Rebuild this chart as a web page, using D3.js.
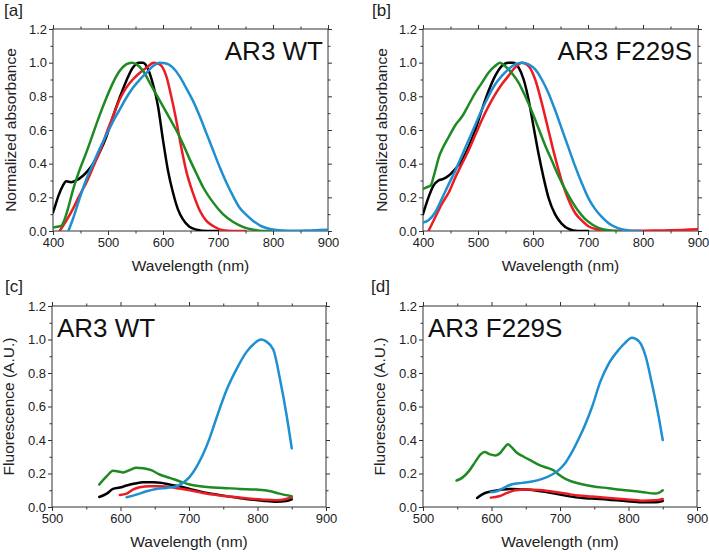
<!DOCTYPE html>
<html>
<head>
  <meta charset="utf-8">
  <title>AR3 absorbance and fluorescence</title>
  <script src="https://d3js.org/d3.v7.min.js"></script>
  <style>
    body { margin: 0; background: #fff; }
    svg { font-family: "Liberation Sans", Arial, sans-serif; }
  </style>
</head>
<body>
  <svg width="709" height="552"></svg>
  <script>
    // tick values
    var absXTicks = [400, 500, 600, 700, 800, 900];
    var fluXTicks = [500, 600, 700, 800, 900];
    var yTicks = [0, 0.2, 0.4, 0.6, 0.8, 1.0, 1.2];

    // [a] absorbance, AR3 WT  (wavelength nm, normalized absorbance)
    var absWtBlack = [[400,0.11],[405,0.16],[410,0.21],[418,0.27],[424,0.295],[433,0.29],[442,0.30],[455,0.33],[464,0.36],[473,0.40],[485,0.47],[497,0.56],[509,0.68],[521,0.79],[533,0.89],[545,0.97],[556,1.0],[564,1.0],[573,0.96],[582,0.87],[591,0.74],[600,0.54],[609,0.36],[618,0.23],[627,0.13],[636,0.07],[648,0.025],[661,0.008],[680,0.0],[700,0.0]];
    var absWtRed = [[412,0.0],[424,0.06],[436,0.13],[448,0.21],[461,0.29],[473,0.38],[485,0.47],[497,0.58],[509,0.68],[521,0.78],[533,0.85],[545,0.90],[558,0.94],[570,0.97],[583,1.0],[594,0.99],[606,0.92],[615,0.80],[624,0.66],[633,0.50],[642,0.36],[655,0.22],[667,0.12],[679,0.06],[691,0.03],[709,0.005],[727,0.0],[750,0.0]];
    var absWtGreen = [[400,0.02],[408,0.025],[415,0.03],[420,0.06],[427,0.13],[436,0.24],[448,0.36],[461,0.47],[473,0.58],[485,0.69],[497,0.79],[509,0.88],[521,0.95],[533,0.99],[543,1.0],[552,0.99],[564,0.95],[576,0.88],[588,0.81],[600,0.74],[612,0.67],[624,0.60],[636,0.52],[648,0.43],[661,0.34],[673,0.26],[691,0.17],[709,0.10],[727,0.055],[745,0.025],[764,0.008],[782,0.0],[800,0.0]];
    var absWtBlue = [[428,0.0],[436,0.07],[448,0.19],[461,0.31],[473,0.40],[485,0.49],[497,0.57],[509,0.65],[521,0.72],[533,0.79],[545,0.85],[558,0.90],[570,0.94],[582,0.98],[594,1.0],[606,0.995],[618,0.97],[630,0.92],[642,0.85],[655,0.77],[667,0.68],[679,0.58],[691,0.48],[703,0.38],[715,0.29],[727,0.21],[739,0.14],[752,0.094],[764,0.06],[776,0.034],[788,0.018],[806,0.006],[830,0.002],[860,0.003],[885,0.006],[900,0.008]];

    // [b] absorbance, AR3 F229S
    var absMuBlack = [[400,0.10],[410,0.20],[419,0.27],[428,0.30],[437,0.31],[447,0.33],[459,0.37],[471,0.42],[483,0.50],[495,0.60],[507,0.72],[519,0.83],[531,0.92],[543,0.98],[555,1.0],[564,1.0],[574,0.97],[583,0.90],[592,0.78],[601,0.62],[610,0.46],[619,0.32],[628,0.20],[640,0.10],[652,0.044],[664,0.014],[682,0.0],[700,0.0]];
    var absMuRed = [[410,0.0],[422,0.08],[434,0.16],[447,0.23],[459,0.32],[471,0.40],[483,0.48],[495,0.57],[507,0.66],[519,0.74],[531,0.81],[543,0.87],[555,0.92],[567,0.97],[580,1.0],[592,0.98],[604,0.90],[616,0.76],[628,0.60],[640,0.44],[652,0.30],[664,0.19],[676,0.11],[688,0.064],[700,0.03],[713,0.012],[731,0.002],[760,0.0],[800,0.002],[850,0.004],[900,0.01]];
    var absMuGreen = [[400,0.25],[407,0.26],[414,0.27],[419,0.32],[424,0.38],[429,0.44],[437,0.50],[447,0.56],[459,0.63],[471,0.68],[483,0.75],[495,0.82],[507,0.88],[519,0.94],[531,0.98],[540,1.0],[549,0.98],[561,0.94],[574,0.88],[586,0.80],[598,0.71],[610,0.61],[622,0.51],[634,0.42],[646,0.33],[658,0.25],[670,0.18],[682,0.12],[694,0.074],[707,0.04],[719,0.018],[737,0.004],[755,0.0]];
    var absMuBlue = [[400,0.05],[410,0.064],[422,0.11],[434,0.19],[447,0.28],[459,0.36],[471,0.45],[483,0.54],[495,0.63],[507,0.72],[519,0.80],[531,0.87],[543,0.92],[555,0.96],[567,0.99],[580,1.0],[592,0.99],[604,0.96],[616,0.90],[628,0.82],[640,0.72],[652,0.61],[664,0.50],[676,0.39],[688,0.29],[700,0.20],[713,0.13],[725,0.084],[737,0.048],[749,0.024],[761,0.01],[779,0.002],[797,0.0]];

    // [c] fluorescence, AR3 WT
    var fluWtBlack = [[569,0.06],[580,0.08],[589,0.108],[599,0.116],[609,0.128],[621,0.14],[633,0.148],[648,0.148],[660,0.144],[674,0.132],[686,0.124],[701,0.108],[720,0.088],[740,0.074],[759,0.062],[783,0.048],[808,0.038],[827,0.032],[842,0.036],[850,0.046]];
    var fluWtRed = [[599,0.072],[609,0.08],[618,0.104],[628,0.118],[643,0.124],[657,0.124],[672,0.12],[686,0.11],[701,0.10],[720,0.084],[740,0.072],[759,0.062],[783,0.052],[808,0.044],[827,0.04],[842,0.048],[850,0.058]];
    var fluWtGreen = [[569,0.134],[580,0.184],[589,0.216],[595,0.214],[604,0.206],[614,0.222],[623,0.234],[633,0.232],[645,0.22],[657,0.194],[672,0.174],[686,0.154],[701,0.134],[716,0.124],[730,0.118],[750,0.114],[774,0.108],[799,0.104],[817,0.096],[832,0.08],[850,0.064]];
    var fluWtBlue = [[609,0.058],[623,0.074],[638,0.094],[652,0.108],[667,0.114],[682,0.124],[691,0.144],[701,0.18],[711,0.24],[720,0.31],[730,0.41],[740,0.53],[755,0.70],[769,0.82],[783,0.92],[795,0.975],[805,1.0],[812,0.99],[823,0.94],[833,0.76],[842,0.56],[850,0.35]];

    // [d] fluorescence, AR3 F229S
    var fluMuBlack = [[579,0.054],[586,0.074],[594,0.088],[601,0.094],[616,0.104],[630,0.108],[650,0.104],[669,0.096],[688,0.084],[708,0.068],[727,0.056],[747,0.05],[771,0.044],[795,0.036],[819,0.028],[839,0.028],[850,0.036]];
    var fluMuRed = [[599,0.056],[611,0.064],[623,0.084],[635,0.10],[650,0.104],[669,0.102],[688,0.092],[708,0.08],[727,0.068],[747,0.062],[771,0.054],[795,0.046],[819,0.038],[839,0.04],[850,0.048]];
    var fluMuGreen = [[549,0.158],[557,0.174],[567,0.214],[577,0.274],[584,0.314],[590,0.328],[598,0.314],[606,0.308],[613,0.324],[618,0.35],[624,0.374],[630,0.354],[637,0.324],[647,0.30],[659,0.274],[671,0.248],[683,0.232],[691,0.218],[698,0.194],[708,0.168],[717,0.152],[732,0.136],[747,0.124],[771,0.112],[795,0.10],[819,0.09],[839,0.08],[844,0.084],[850,0.10]];
    var fluMuBlue = [[599,0.088],[608,0.094],[618,0.114],[630,0.136],[645,0.144],[659,0.152],[674,0.168],[686,0.188],[698,0.22],[708,0.264],[717,0.324],[727,0.404],[737,0.494],[747,0.60],[759,0.75],[771,0.855],[786,0.94],[795,0.98],[805,1.01],[815,0.99],[825,0.90],[834,0.74],[844,0.54],[850,0.40]];

    var colors = { black: "#000000", red: "#ec1c24", green: "#1e8a22", blue: "#1e8fd0" };

    var svg = d3.select("svg");

    var panels = [
      { tag: "[a]", tagX: 4, tagY: 16, x0: 53, x1: 328, y0: 29, y1: 231,
        xDomain: [400, 900], xTicks: absXTicks, yTitle: "Normalized absorbance", yTitleX: 16,
        name: "AR3 WT", nameX: 323, nameAnchor: "end",
        series: [[absWtBlack, colors.black], [absWtRed, colors.red], [absWtGreen, colors.green], [absWtBlue, colors.blue]] },
      { tag: "[b]", tagX: 372, tagY: 16, x0: 423, x1: 698, y0: 29, y1: 231,
        xDomain: [400, 900], xTicks: absXTicks, yTitle: "Normalized absorbance", yTitleX: 387,
        name: "AR3 F229S", nameX: 692, nameAnchor: "end",
        series: [[absMuBlack, colors.black], [absMuRed, colors.red], [absMuGreen, colors.green], [absMuBlue, colors.blue]] },
      { tag: "[c]", tagX: 5, tagY: 292, x0: 52, x1: 326, y0: 306, y1: 507,
        xDomain: [500, 900], xTicks: fluXTicks, yTitle: "Fluorescence (A.U.)", yTitleX: 14,
        name: "AR3 WT", nameX: 57, nameAnchor: "start",
        series: [[fluWtBlack, colors.black], [fluWtRed, colors.red], [fluWtGreen, colors.green], [fluWtBlue, colors.blue]] },
      { tag: "[d]", tagX: 371, tagY: 292, x0: 423, x1: 697, y0: 306, y1: 507,
        xDomain: [500, 900], xTicks: fluXTicks, yTitle: "Fluorescence (A.U.)", yTitleX: 385,
        name: "AR3 F229S", nameX: 428, nameAnchor: "start",
        series: [[fluMuBlack, colors.black], [fluMuRed, colors.red], [fluMuGreen, colors.green], [fluMuBlue, colors.blue]] }
    ];

    panels.forEach(function(p, i) {
      var x = d3.scaleLinear().domain(p.xDomain).range([p.x0, p.x1]);
      var y = d3.scaleLinear().domain([0, 1.2]).range([p.y1, p.y0]);

      // minor ticks halfway between the major ones
      var xMinor = d3.range(p.xDomain[0] + 50, p.xDomain[1], 100);
      var yMinor = d3.range(0.1, 1.2, 0.2);

      var g = svg.append("g");

      g.append("clipPath").attr("id", "clip" + i)
        .append("rect")
        .attr("x", p.x0).attr("y", p.y0)
        .attr("width", p.x1 - p.x0).attr("height", p.y1 - p.y0);

      // minor ticks on all four sides
      [[d3.axisBottom(x).tickValues(xMinor), "translate(0," + p.y1 + ")"],
       [d3.axisTop(x).tickValues(xMinor), "translate(0," + p.y0 + ")"],
       [d3.axisLeft(y).tickValues(yMinor), "translate(" + p.x0 + ",0)"],
       [d3.axisRight(y).tickValues(yMinor), "translate(" + p.x1 + ",0)"]].forEach(function(a) {
        g.append("g").attr("class", "minor").attr("transform", a[1])
          .call(a[0].tickSize(2.5).tickFormat(""));
      });

      // major ticks, labelled on bottom and left only
      g.append("g").attr("class", "ax").attr("transform", "translate(0," + p.y1 + ")")
        .call(d3.axisBottom(x).tickValues(p.xTicks).tickSize(4).tickPadding(3).tickFormat(d3.format("d")));
      g.append("g").attr("class", "ax").attr("transform", "translate(0," + p.y0 + ")")
        .call(d3.axisTop(x).tickValues(p.xTicks).tickSize(4).tickFormat(""));
      g.append("g").attr("class", "ax").attr("transform", "translate(" + p.x0 + ",0)")
        .call(d3.axisLeft(y).tickValues(yTicks).tickSize(4).tickPadding(2).tickFormat(d3.format(".1f")));
      g.append("g").attr("class", "ax").attr("transform", "translate(" + p.x1 + ",0)")
        .call(d3.axisRight(y).tickValues(yTicks).tickSize(4).tickFormat(""));

      g.selectAll(".domain").remove();
      g.selectAll(".tick line").attr("stroke", "#333").attr("stroke-width", 1);
      g.selectAll(".tick text").attr("fill", "#222").style("font-size", "13px");

      // frame
      g.append("rect")
        .attr("x", p.x0).attr("y", p.y0)
        .attr("width", p.x1 - p.x0).attr("height", p.y1 - p.y0)
        .attr("fill", "none").attr("stroke", "#333").attr("stroke-width", 1);

      // curves
      var line = d3.line()
        .x(function(d) { return x(d[0]); })
        .y(function(d) { return y(d[1]); })
        .curve(d3.curveMonotoneX);

      g.append("g").attr("clip-path", "url(#clip" + i + ")")
        .selectAll("path")
        .data(p.series)
        .enter()
        .append("path")
        .attr("d", function(s) { return line(s[0]); })
        .attr("fill", "none")
        .attr("stroke", function(s) { return s[1]; })
        .attr("stroke-width", 2.5)
        .attr("stroke-linejoin", "round")
        .attr("stroke-linecap", "round");

      // sample name inside plot
      g.append("text")
        .attr("x", p.nameX).attr("y", p.y0 + 31)
        .attr("text-anchor", p.nameAnchor)
        .style("font-size", "26px")
        .attr("fill", "#111")
        .text(p.name);

      // panel tag
      g.append("text")
        .attr("x", p.tagX).attr("y", p.tagY)
        .style("font-size", "17px")
        .attr("fill", "#222")
        .text(p.tag);

      // axis titles
      g.append("text")
        .attr("x", (p.x0 + p.x1) / 2).attr("y", p.y1 + 40)
        .attr("text-anchor", "middle")
        .style("font-size", "15.5px")
        .attr("fill", "#222")
        .text("Wavelength (nm)");

      g.append("text")
        .attr("transform", "translate(" + p.yTitleX + "," + ((p.y0 + p.y1) / 2) + ") rotate(-90)")
        .attr("text-anchor", "middle")
        .style("font-size", "15.5px")
        .attr("fill", "#222")
        .text(p.yTitle);
    });
  </script>
</body>
</html>
